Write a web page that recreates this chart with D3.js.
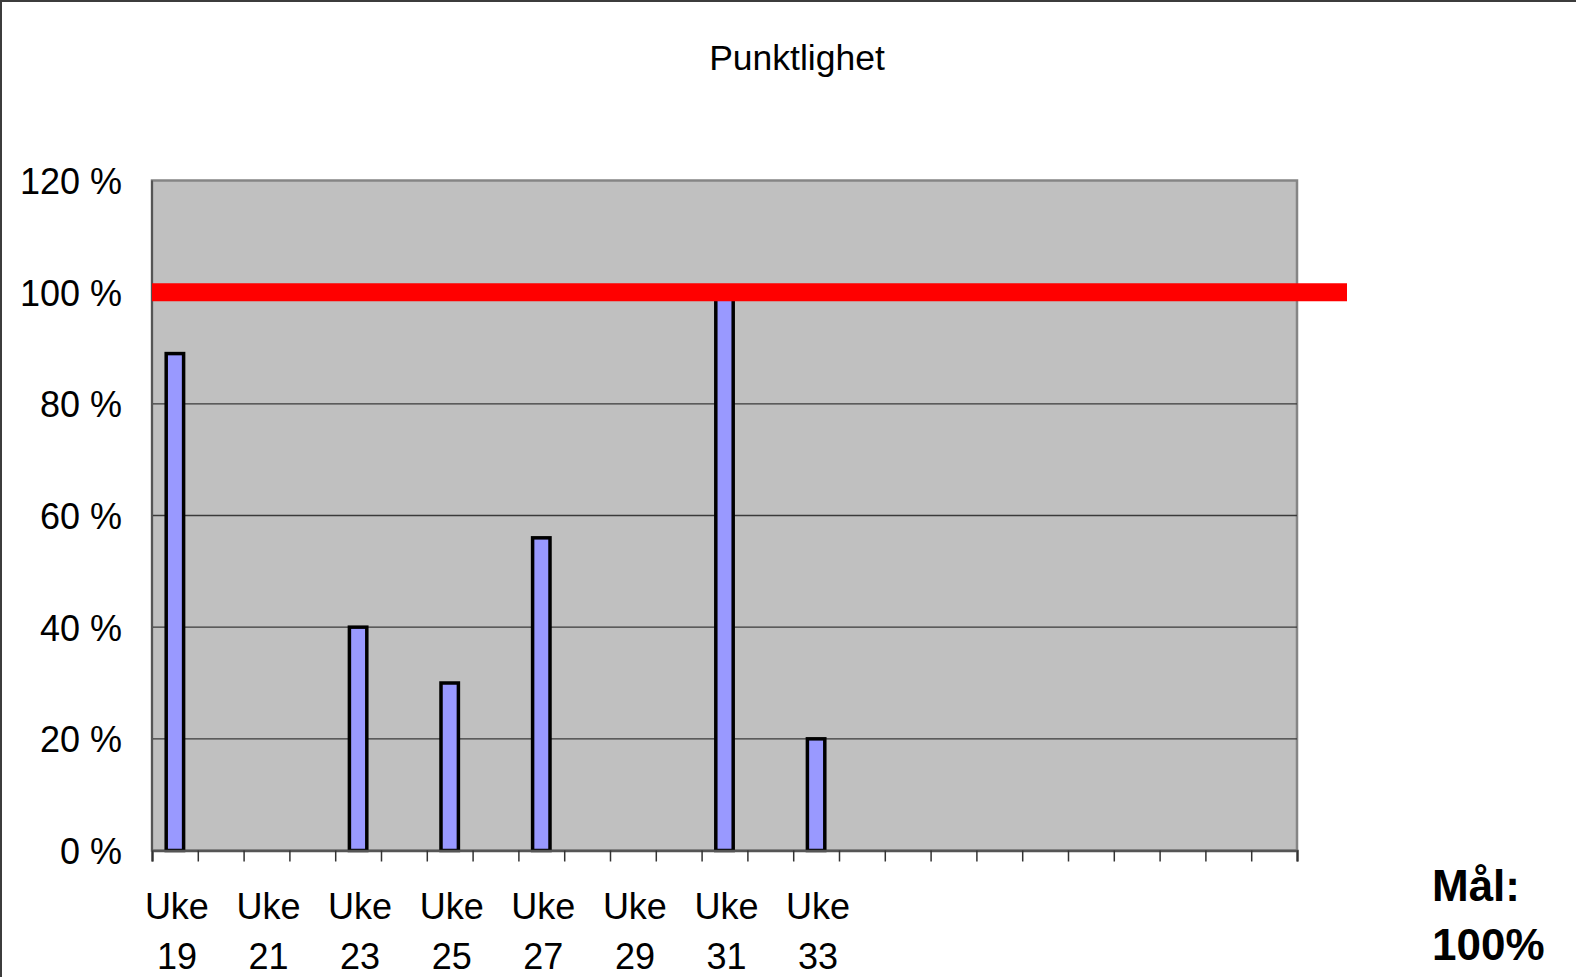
<!DOCTYPE html>
<html>
<head>
<meta charset="utf-8">
<script src="https://cdn.jsdelivr.net/npm/d3@7"></script>
<style>
  html, body { margin: 0; padding: 0; background: #fff; }
  svg { display: block; font-family: "Liberation Sans", Arial, sans-serif; }
</style>
</head>
<body>
<svg id="chart" width="1576" height="977"></svg>
<script>
// weeks shown on the category axis (25 slots, only the first ones carry a name)
const weeks = ["Uke 19", "Uke 20", "Uke 21", "Uke 22", "Uke 23", "Uke 24", "Uke 25",
  "Uke 26", "Uke 27", "Uke 28", "Uke 29", "Uke 30", "Uke 31", "Uke 32", "Uke 33",
  "Uke 34", "", "", "", "", "", "", "", "", ""];
// punctuality in percent, null = no bar
const punctuality = [89, null, null, null, 40, null, 30, null, 56, null, null, null,
  100, null, 20, null, null, null, null, null, null, null, null, null, null];
const yTicks = [0, 20, 40, 60, 80, 100, 120];
const target = 100;
const title = "Punktlighet";
const goalText = ["Mål:", "100%"];

const svg = d3.select("#chart");
const W = 1576, H = 977;
const plot = { left: 152, right: 1297, top: 180.5, bottom: 850.5 };

// outer frame
svg.append("rect")
  .attr("x", 1).attr("y", 1)
  .attr("width", W + 10).attr("height", H + 10)
  .attr("fill", "#fff")
  .attr("stroke", "#3c3c3c")
  .attr("stroke-width", 2);

const slots = weeks.map((w, i) => i);
const x = d3.scaleBand().domain(slots).range([plot.left, plot.right]).padding(0);
const xEdge = d3.scaleLinear().domain([0, weeks.length]).range([plot.left, plot.right]);
const y = d3.scaleLinear().domain([0, 120]).range([plot.bottom, plot.top]);

// plot area
svg.append("rect")
  .attr("x", plot.left).attr("y", plot.top)
  .attr("width", plot.right - plot.left).attr("height", plot.bottom - plot.top)
  .attr("fill", "#c0c0c0")
  .attr("stroke", "#858585")
  .attr("stroke-width", 2.5);

// gridlines
svg.append("g")
  .selectAll("line")
  .data(yTicks.filter(t => t > 0 && t < 120))
  .enter()
  .append("line")
  .attr("x1", plot.left).attr("x2", plot.right)
  .attr("y1", d => y(d)).attr("y2", d => y(d))
  .attr("stroke", "#3a3a3a")
  .attr("stroke-width", 1.3);

// left edge a bit darker, like the value axis line
svg.append("line")
  .attr("x1", plot.left).attr("x2", plot.left)
  .attr("y1", plot.top).attr("y2", plot.bottom)
  .attr("stroke", "#555").attr("stroke-width", 2);

// y axis labels
const yAxis = svg.append("g")
  .attr("transform", `translate(${plot.left},0)`)
  .call(d3.axisLeft(y).tickValues(yTicks).tickSize(0).tickPadding(30).tickFormat(d => d + " %"));
yAxis.select(".domain").remove();
yAxis.selectAll("text")
  .attr("font-size", 36)
  .attr("fill", "#000")
  .attr("font-family", "'Liberation Sans', Arial, sans-serif")
  .attr("dy", "0.36em");

// bars
const barW = x.bandwidth() * 0.38;
svg.append("g")
  .selectAll("rect")
  .data(punctuality.map((v, i) => ({ i, v })).filter(d => d.v != null))
  .enter()
  .append("rect")
  .attr("x", d => x(d.i) + (x.bandwidth() - barW) / 2)
  .attr("y", d => y(d.v))
  .attr("width", barW)
  .attr("height", d => y(0) - y(d.v))
  .attr("fill", "#9999ff")
  .attr("stroke", "#000")
  .attr("stroke-width", 3.5);

// category axis: ticks on slot edges
const xTicks = svg.append("g")
  .attr("transform", `translate(0,${plot.bottom})`)
  .call(d3.axisBottom(xEdge).tickValues(d3.range(weeks.length + 1)).tickSize(11).tickFormat(""));
xTicks.select(".domain")
  .attr("stroke", "#555").attr("stroke-width", 2.5);
xTicks.selectAll(".tick line").attr("stroke", "#333").attr("stroke-width", 1.5);

// category labels, every second slot, on two lines
const labels = svg.append("g")
  .selectAll("text")
  .data(slots.filter(i => i % 2 === 0 && weeks[i] !== ""))
  .enter()
  .append("text")
  .attr("text-anchor", "middle")
  .attr("font-size", 36)
  .attr("fill", "#000");
labels.append("tspan")
  .attr("x", i => x(i) + x.bandwidth() / 2 + 2)
  .attr("y", 919)
  .text(i => weeks[i].split(" ")[0]);
labels.append("tspan")
  .attr("x", i => x(i) + x.bandwidth() / 2 + 2)
  .attr("y", 969)
  .text(i => weeks[i].split(" ")[1]);

// target line
svg.append("line")
  .attr("x1", plot.left)
  .attr("x2", plot.right + 50)
  .attr("y1", y(target)).attr("y2", y(target))
  .attr("stroke", "#ff0000")
  .attr("stroke-width", 18);

// title
svg.append("text")
  .attr("x", 797).attr("y", 70)
  .attr("text-anchor", "middle")
  .attr("font-size", 35.5)
  .attr("fill", "#000")
  .text(title);

// goal note
svg.append("g")
  .selectAll("text")
  .data(goalText)
  .enter()
  .append("text")
  .attr("x", 1432)
  .attr("y", (d, i) => 901 + i * 59)
  .attr("font-size", 44)
  .attr("font-weight", "bold")
  .attr("fill", "#000")
  .text(d => d);
</script>
</body>
</html>
